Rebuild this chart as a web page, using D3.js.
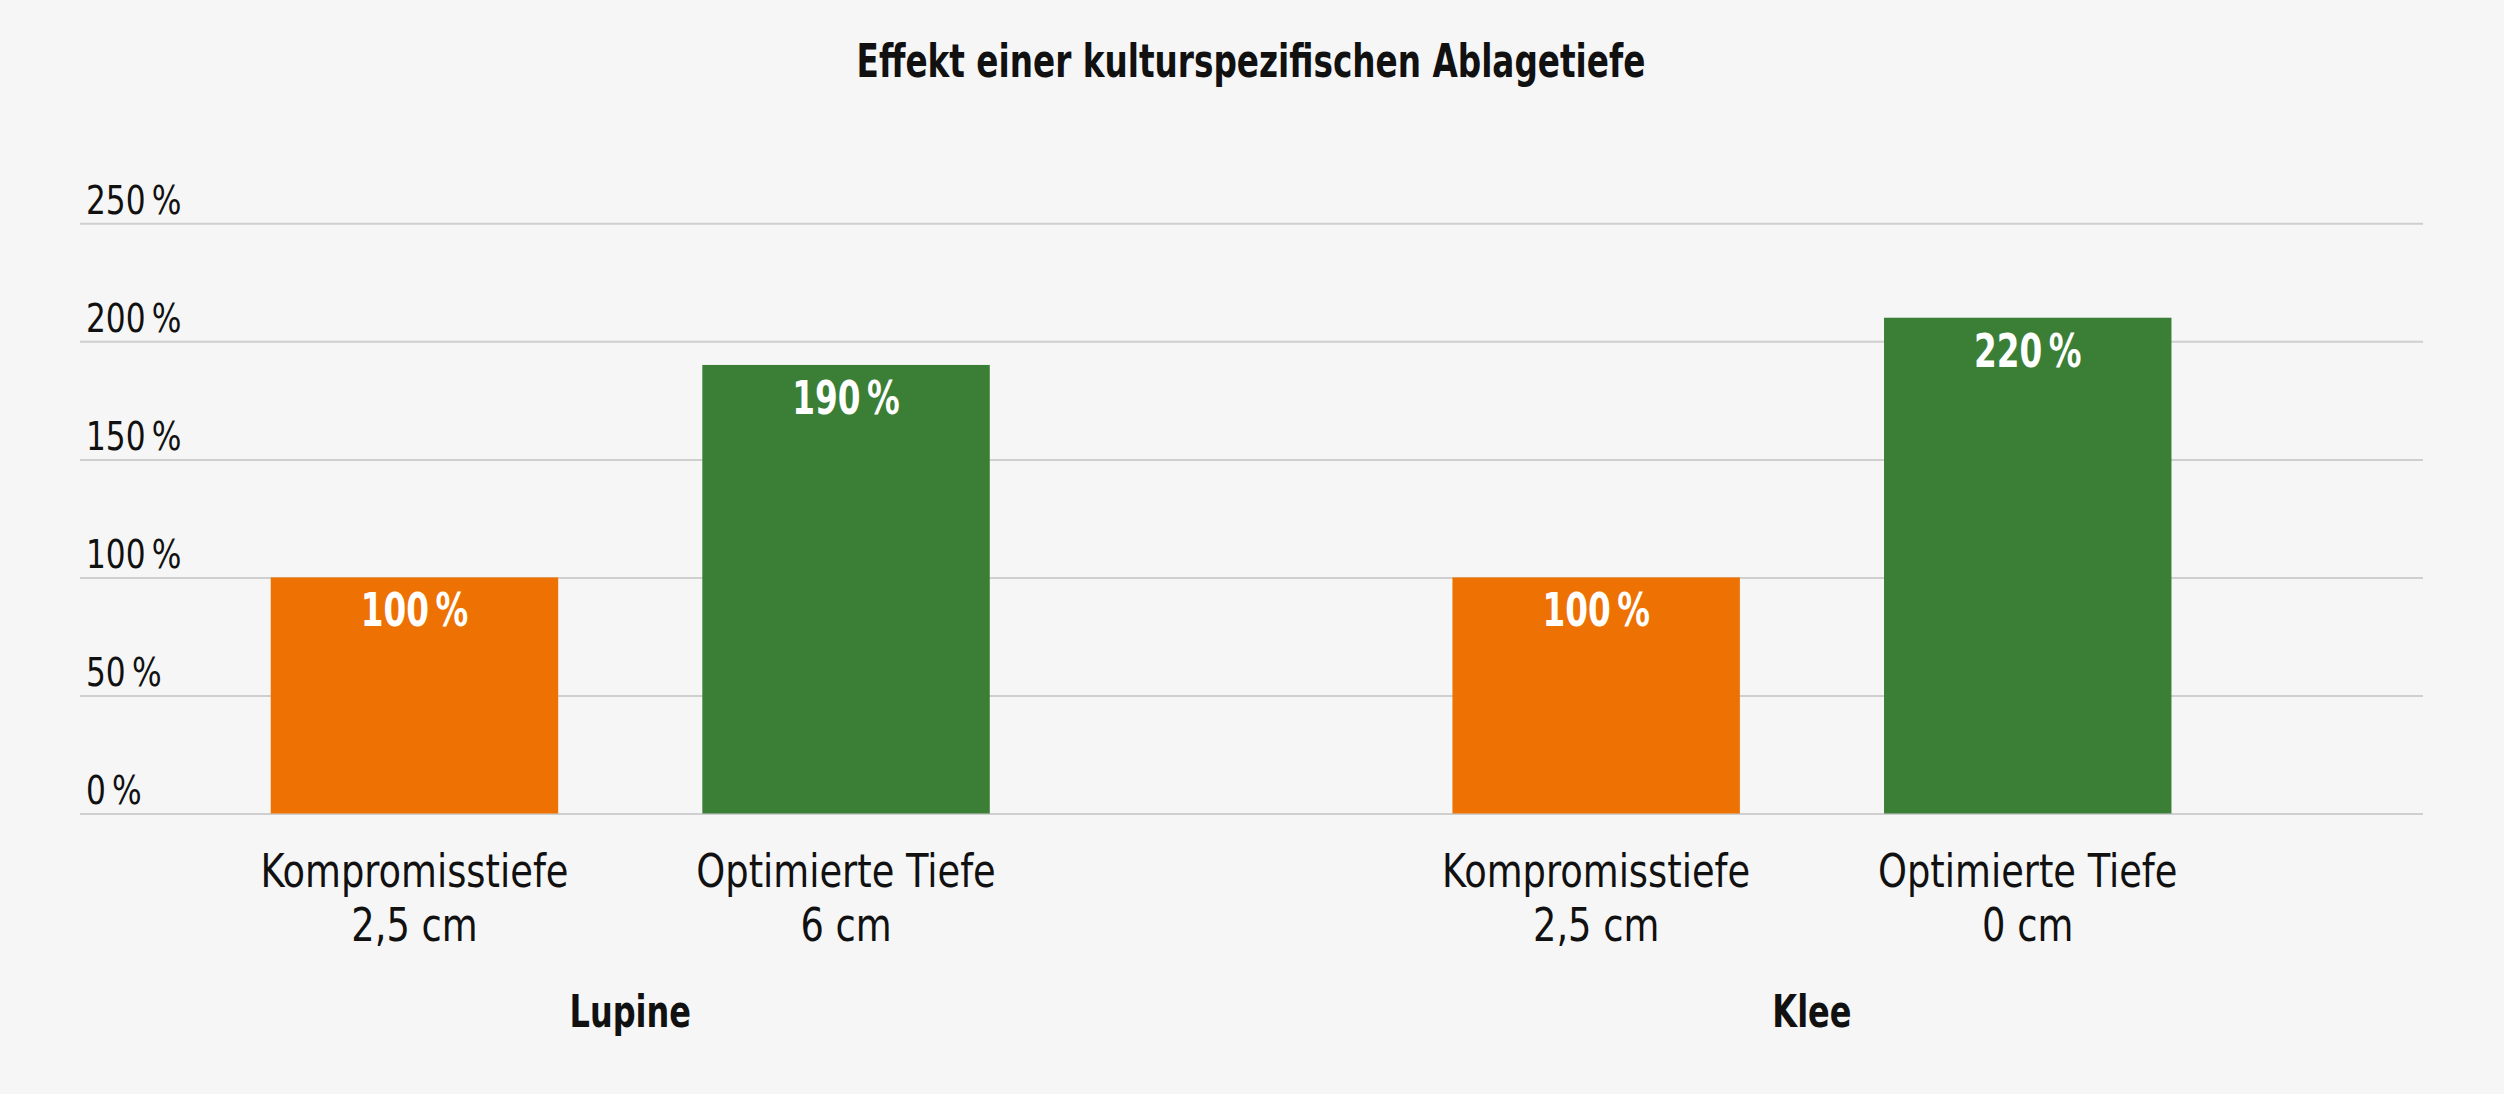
<!DOCTYPE html>
<html><head><meta charset="utf-8">
<script src="https://cdn.jsdelivr.net/npm/d3@7"></script>
<style>
html,body{margin:0;padding:0;background:#f6f6f6;}
svg{display:block;}
text{font-family:"DejaVu Sans Condensed","Liberation Sans Narrow","Liberation Sans",sans-serif;}
</style></head>
<body>
<svg id="chart" width="2504" height="1094"></svg>
<script>
const title = "Effekt einer kulturspezifischen Ablagetiefe";
const groups = ["Lupine", "Klee"];
const series = ["Kompromisstiefe", "Optimierte Tiefe"];
const depthLabels = [["2,5 cm", "6 cm"], ["2,5 cm", "0 cm"]];
const kompromissValues = [100, 100];
const optimiertValues = [190, 210];
const valueLabels = [["100\u2009%", "190\u2009%"], ["100\u2009%", "220\u2009%"]];
const yTicks = [0, 50, 100, 150, 200, 250];
const yTickLabels = ["0\u2009%", "50\u2009%", "100\u2009%", "150\u2009%", "200\u2009%", "250\u2009%"];
const colors = ["#ee7203", "#3b7e36"];

const W = 2504, H = 1094;
const svg = d3.select("#chart");
svg.append("rect").attr("width", W).attr("height", H).attr("fill", "#f6f6f6");

const plotLeft = 80, plotRight = 2423;
const y = d3.scaleLinear().domain([0, 250]).range([813.5, 223.3]);
const x0 = d3.scaleBand().domain(groups).range([39.4, 2402.8]).padding(0);
const x1 = d3.scaleBand().domain(series).range([0, x0.bandwidth()])
  .paddingInner(0.334).paddingOuter(0.536);

// gridlines + tick labels
const yAxis = d3.axisRight(y).tickValues(yTicks)
  .tickSize(plotRight - plotLeft)
  .tickFormat((d, i) => yTickLabels[i]);
const gy = svg.append("g").attr("transform", `translate(${plotLeft},0)`).call(yAxis);
gy.select(".domain").remove();
gy.selectAll(".tick line").attr("stroke", "#cfcfcf").attr("stroke-width", 2);
gy.selectAll(".tick text")
  .attr("class", "narrow")
  .attr("x", 6).attr("dy", -10).attr("text-anchor", "start")
  .attr("font-size", 39).attr("fill", "#111");

// title
svg.append("text").attr("class", "narrowBold").attr("x", 1251).attr("y", 77.4).attr("text-anchor", "middle")
  .attr("font-size", 46).attr("font-weight", "bold").attr("fill", "#111").text(title);

const data = groups.map((g, gi) => ({
  group: g,
  items: series.map((s, si) => ({
    series: s, si, gi,
    value: si === 0 ? kompromissValues[gi] : optimiertValues[gi],
    label: valueLabels[gi][si],
    depth: depthLabels[gi][si]
  }))
}));

const gg = svg.selectAll("g.grp").data(data).join("g").attr("class", "grp")
  .attr("transform", d => `translate(${x0(d.group)},0)`);

gg.selectAll("rect.bar").data(d => d.items).join("rect").attr("class", "bar")
  .attr("x", d => x1(d.series)).attr("width", x1.bandwidth())
  .attr("y", d => y(d.value)).attr("height", d => y(0) - y(d.value))
  .attr("fill", d => colors[d.si]);

gg.selectAll("text.val").data(d => d.items).join("text").attr("class", "val narrowBold")
  .attr("x", d => x1(d.series) + x1.bandwidth() / 2)
  .attr("y", d => y(d.value) + 49)
  .attr("text-anchor", "middle").attr("font-size", 46).attr("font-weight", "bold")
  .attr("fill", "#fff").text(d => d.label);

gg.selectAll("text.cat").data(d => d.items).join("text").attr("class", "cat narrow")
  .attr("x", d => x1(d.series) + x1.bandwidth() / 2)
  .attr("y", 887).attr("text-anchor", "middle").attr("font-size", 46).attr("fill", "#111")
  .text(d => d.series);

gg.selectAll("text.depth").data(d => d.items).join("text").attr("class", "depth narrow")
  .attr("x", d => x1(d.series) + x1.bandwidth() / 2)
  .attr("y", 941).attr("text-anchor", "middle").attr("font-size", 46).attr("fill", "#111")
  .text(d => d.depth);

gg.append("text").attr("class", "grpLabel narrowBold")
  .attr("x", x0.bandwidth() / 2).attr("y", 1026.7)
  .attr("text-anchor", "middle").attr("font-size", 45).attr("font-weight", "bold")
  .attr("fill", "#111").text(d => d.group);

// condense glyphs horizontally to approximate the reference's condensed typeface
function condense(sel, f) {
  sel.each(function () {
    const w = this.getComputedTextLength();
    d3.select(this).attr("textLength", w * f).attr("lengthAdjust", "spacingAndGlyphs");
  });
}
condense(svg.selectAll("text.narrow"), 0.89);
condense(svg.selectAll("text.narrowBold"), 0.79);
</script>
</body></html>
